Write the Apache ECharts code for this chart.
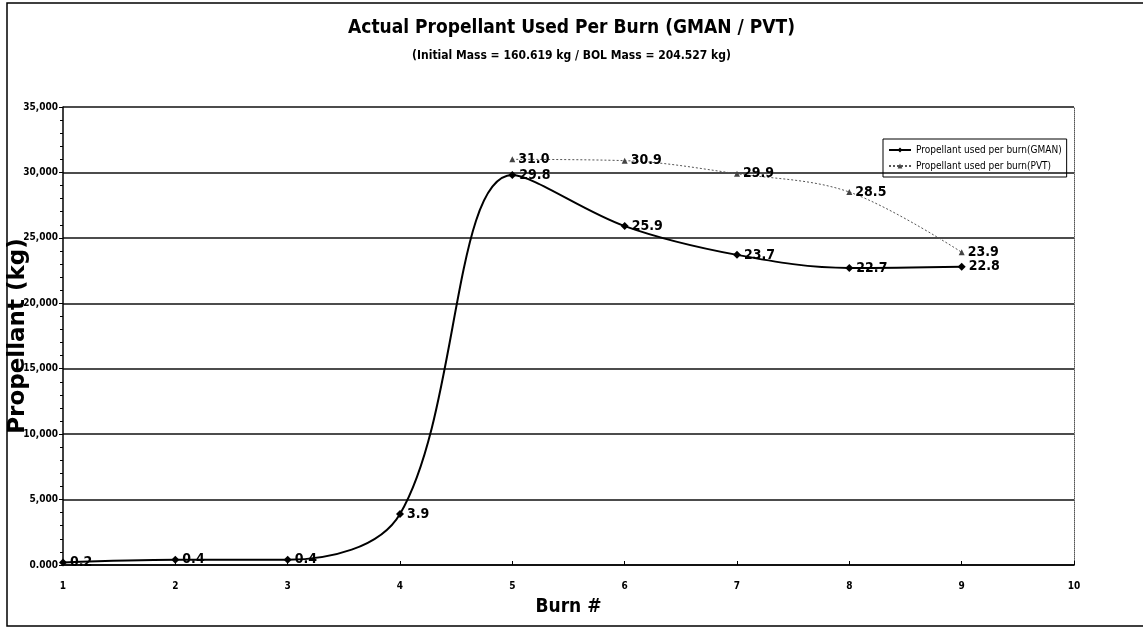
<!DOCTYPE html>
<html>
<head>
<meta charset="utf-8">
<script src="https://cdn.jsdelivr.net/npm/echarts@6/dist/echarts.min.js"></script>
<style>
html,body{margin:0;padding:0;background:#fff;}
#chart{width:1143px;height:628px;}
</style>
</head>
<body>
<div id="chart"></div>
<script>
const burns = [1, 2, 3, 4, 5, 6, 7, 8, 9];
const gmanValues = [0.2, 0.4, 0.4, 3.9, 29.8, 25.9, 23.7, 22.7, 22.8];
const pvtBurns = [5, 6, 7, 8, 9];
const pvtValues = [31.0, 30.9, 29.9, 28.5, 23.9];
const yTickLabels = ['0.000', '5,000', '10,000', '15,000', '20,000', '25,000', '30,000', '35,000'];
const xTickLabels = ['1', '2', '3', '4', '5', '6', '7', '8', '9', '10'];

const FONT = '"DejaVu Sans Condensed", "Liberation Sans Narrow", sans-serif';

const gmanData = burns.map((b, i) => [b, gmanValues[i]]);
const pvtData = pvtBurns.map((b, i) => [b, pvtValues[i]]);

const chart = echarts.init(document.getElementById('chart'), null, {renderer: 'canvas'});

const labelStyle = {
  show: true,
  position: 'right',
  distance: 3,
  fontFamily: FONT,
  fontWeight: 'bold',
  fontSize: 14,
  color: '#000',
  formatter: p => p.value[1].toFixed(1)
};

chart.setOption({
  backgroundColor: '#fff',
  animation: false,
  title: [{
    text: 'Actual Propellant Used Per Burn (GMAN / PVT)',
    left: 'center',
    top: 14,
    textStyle: {fontFamily: FONT, fontWeight: 'bold', fontSize: 19, color: '#000'}
  }, {
    text: '(Initial Mass = 160.619 kg / BOL Mass = 204.527 kg)',
    left: 'center',
    top: 45,
    textStyle: {fontFamily: FONT, fontWeight: 'bold', fontSize: 12, color: '#000'}
  }],
  legend: {
    orient: 'vertical',
    left: 883,
    top: 139,
    padding: [6, 5, 6, 5],
    itemGap: 6,
    itemWidth: 22,
    itemHeight: 6,
    borderColor: '#000',
    borderWidth: 1,
    textStyle: {fontFamily: FONT, fontSize: 10, color: '#000'},
    data: ['Propellant used per burn(GMAN)', 'Propellant used per burn(PVT)']
  },
  grid: {left: 63, right: 69, top: 107, bottom: 63, outerBoundsMode: 'none', containLabel: false},
  xAxis: {
    type: 'value',
    min: 1,
    max: 10,
    interval: 1,
    name: 'Burn #',
    nameLocation: 'middle',
    nameGap: 33,
    nameMoveOverlap: false,
    nameTextStyle: {fontFamily: FONT, fontWeight: 'bold', fontSize: 19, color: '#000'},
    axisLine: {lineStyle: {color: '#000', width: 1.5}},
    axisTick: {show: true, inside: true, length: 4, lineStyle: {color: '#000'}},
    axisLabel: {
      fontFamily: FONT, fontWeight: 'bold', fontSize: 10, color: '#000', margin: 16,
      formatter: v => xTickLabels[Math.round(v) - 1]
    },
    splitLine: {show: false}
  },
  yAxis: [{
    type: 'value',
    min: 0,
    max: 35,
    interval: 5,
    name: 'Propellant (kg)',
    nameLocation: 'middle',
    nameGap: 33,
    nameMoveOverlap: false,
    nameTextStyle: {fontFamily: '"DejaVu Sans", sans-serif', fontWeight: 'bold', fontSize: 23, color: '#000'},
    axisLine: {show: true, lineStyle: {color: '#000', width: 1.5}},
    axisTick: {show: true, length: 4, lineStyle: {color: '#000'}},
    minorTick: {show: true, splitNumber: 5, length: 3, lineStyle: {color: '#000'}},
    axisLabel: {
      fontFamily: FONT, fontWeight: 'bold', fontSize: 10, color: '#000', margin: 5,
      formatter: v => yTickLabels[Math.round(v / 5)]
    },
    splitLine: {show: true, lineStyle: {color: '#111', width: 1.5}}
  }, {
    type: 'value',
    min: 0,
    max: 35,
    interval: 5,
    position: 'right',
    axisLine: {show: true, lineStyle: {color: '#555', width: 1, type: 'dotted'}},
    axisTick: {show: false},
    axisLabel: {show: false},
    splitLine: {show: false}
  }],
  series: [{
    name: 'Propellant used per burn(GMAN)',
    type: 'line',
    data: gmanData,
    smooth: 0.35,
    symbol: 'diamond',
    symbolSize: 8,
    itemStyle: {color: '#000'},
    lineStyle: {color: '#000', width: 2},
    label: labelStyle,
    z: 3
  }, {
    name: 'Propellant used per burn(PVT)',
    type: 'line',
    data: pvtData,
    smooth: 0.35,
    symbol: 'triangle',
    symbolSize: 6,
    itemStyle: {color: '#444'},
    lineStyle: {color: '#555', width: 1, type: [2, 2]},
    label: labelStyle,
    z: 2
  }],
  graphic: [{
    type: 'rect',
    shape: {x: 7, y: 3, width: 1200, height: 623},
    style: {fill: 'none', stroke: '#000', lineWidth: 1.5},
    silent: true
  }]
});
</script>
</body>
</html>
